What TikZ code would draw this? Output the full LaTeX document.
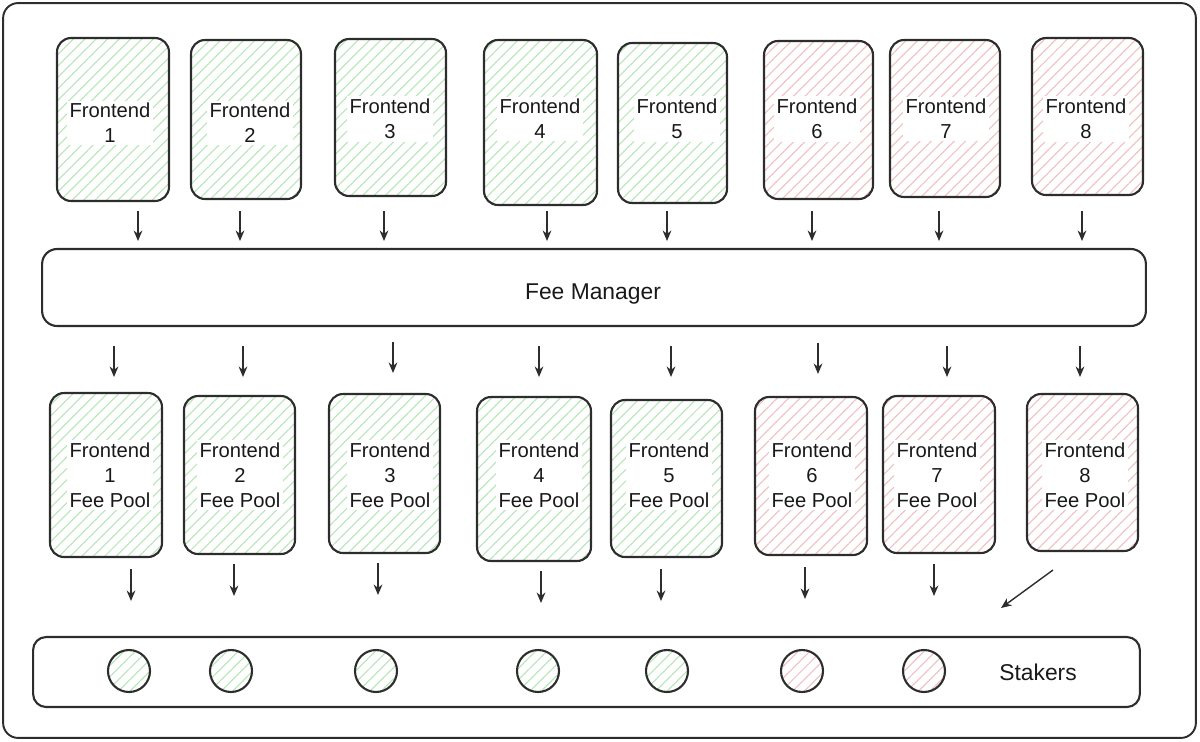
\documentclass[tikz,border=0pt]{standalone}
\usepackage{fontspec}
\setmainfont{Liberation Sans}
\usetikzlibrary{patterns.meta,arrows.meta}
\definecolor{hg}{RGB}{180,230,180}
\definecolor{hr}{RGB}{240,190,190}
\definecolor{edge}{RGB}{45,45,45}
\tikzset{
  hatch/.style={pattern={Lines[angle=45,distance=4.6pt,line width=0.6pt]}},
  box/.style={draw=edge,line width=1.2pt,rounded corners=0.28cm,inner sep=0pt},
  gbox/.style={box,hatch,pattern color=hg},
  rbox/.style={box,hatch,pattern color=hr},
  lbl/.style={fill=white,inner sep=1.5pt,align=center,font=\fontsize{11.5}{14.2}\selectfont,text=black!90},
  big/.style={font=\fontsize{13}{16}\selectfont,text=black!90},
  arr/.style={draw=edge,line width=0.8pt,-{Stealth[length=6pt,width=5pt]}},
  circ/.style={circle,draw=edge,line width=1.2pt,minimum size=0.84cm,inner sep=0pt,hatch}
}
\begin{document}
\begin{tikzpicture}[x=0.02cm,y=-0.02cm]
\useasboundingbox (0,0) rectangle (1200,741);
\node[draw=edge,line width=1.1pt,rounded corners=0.3cm,minimum width=23.86cm,minimum height=14.7cm,inner sep=0pt] (frame) at (599.5,370.5) {};
% top frontends
\foreach \i/\cx/\cy/\w/\h/\tx/\ty/\st in {
 1/113/119.5/2.24/3.26/110/123/gbox,
 2/246/119.5/2.20/3.18/250/123/gbox,
 3/390.5/117.5/2.22/3.14/390/119/gbox,
 4/540.5/122.5/2.26/3.30/540/119/gbox,
 5/672.5/123/2.18/3.20/677/119/gbox,
 6/818.5/120/2.18/3.16/817/119/rbox,
 7/945/118.5/2.20/3.14/946/119/rbox,
 8/1087.5/116.5/2.22/3.14/1086/119/rbox}{
  \node[\st,minimum width=\w cm,minimum height=\h cm] (t\i) at (\cx,\cy) {};
  \node[lbl] (tl\i) at (\tx,\ty) {Frontend\\\i};
}
% fee manager
\node[box,rounded corners=0.3cm,minimum width=22.08cm,minimum height=1.54cm] (fm) at (594,287.5) {};
\node[big] (fml) at (593,294) {Fee Manager};
% top arrows
\foreach \i/\x in {1/138,2/240,3/384,4/547,5/667,6/812,7/939,8/1082}{
  \coordinate (ua\i) at (\x,211);
  \coordinate (ub\i) at (\x,241);
  \draw[arr] (ua\i) -- (ub\i);
}
% middle arrows
\foreach \i/\x/\y in {1/114/346,2/243/346,3/393/342,4/539/346,5/671/346,6/818/343,7/947/346,8/1080/346}{
  \coordinate (ma\i) at (\x,\y);
  \coordinate (mb\i) at (\x,\y+31);
  \draw[arr] (ma\i) -- (mb\i);
}
% pools
\foreach \i/\cx/\cy/\w/\h/\tx/\st in {
 1/106/475/2.24/3.28/110/gbox,
 2/239.5/475/2.22/3.16/240/gbox,
 3/384.5/473.5/2.22/3.18/390/gbox,
 4/534/479/2.28/3.28/539/gbox,
 5/666.5/478.5/2.22/3.14/669/gbox,
 6/811/476/2.24/3.16/812/rbox,
 7/939/474.5/2.24/3.14/937/rbox,
 8/1082.5/472.5/2.22/3.14/1085/rbox}{
  \node[\st,minimum width=\w cm,minimum height=\h cm] (p\i) at (\cx,\cy) {};
  \node[lbl] (pl\i) at (\tx,475) {Frontend\\\i\\Fee Pool};
}
% bottom arrows
\foreach \i/\x/\y in {1/131/569,2/234/564,3/378/563,4/541/571,5/661/569,6/805/567,7/934/564}{
  \coordinate (ba\i) at (\x,\y);
  \coordinate (bb\i) at (\x,\y+32);
  \draw[arr] (ba\i) -- (bb\i);
}
\coordinate (ba8) at (1053,570);
\coordinate (bb8) at (1001,608);
\draw[arr] (ba8) -- (bb8);
% stakers
\node[box,rounded corners=0.26cm,minimum width=22.14cm,minimum height=1.4cm] (sk) at (586.5,672) {};
\node[big] (skl) at (1038,672) {Stakers};
\foreach \i/\x/\c in {1/129/hg,2/231/hg,3/376/hg,4/538/hg,5/667/hg,6/802/hr,7/924/hr}{
  \node[circ,pattern color=\c] (s\i) at (\x,671) {};
}
\end{tikzpicture}
\end{document}
